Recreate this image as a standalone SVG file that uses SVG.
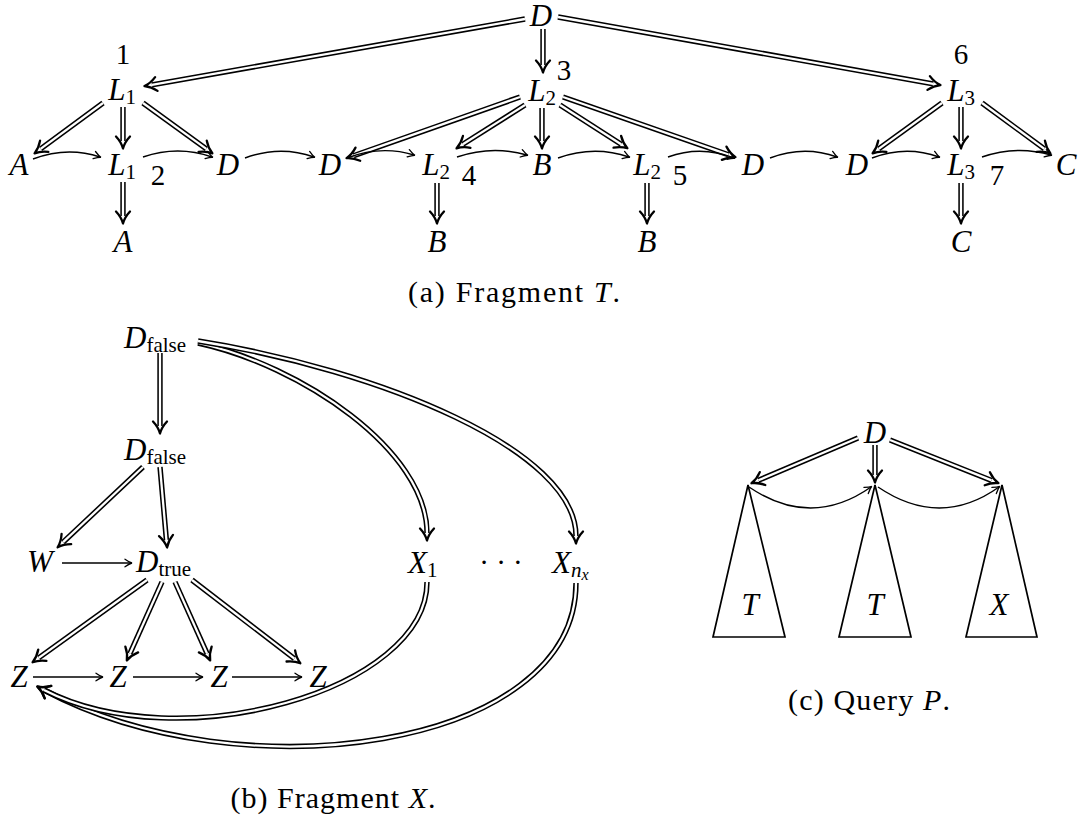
<svg xmlns="http://www.w3.org/2000/svg" width="1084" height="821" viewBox="0 0 1084 821">
<style>
.n{font-family:"Liberation Serif",serif;font-size:31px;font-style:italic;fill:#000}
.s{font-style:normal;font-size:21px}
.si{font-style:italic;font-size:21px}
.ss{font-style:italic;font-size:16px}
.num{font-family:"Liberation Serif",serif;font-size:29px;fill:#000}
.cap{font-family:"Liberation Serif",serif;font-size:30px;fill:#000}
.dbo{fill:none;stroke:#000;stroke-width:5.4;marker-end:url(#dh)}
.dbi{fill:none;stroke:#fff;stroke-width:2.3}
.sg{fill:none;stroke:#000;stroke-width:1.4;marker-end:url(#sh)}
.tri{fill:none;stroke:#000;stroke-width:1.7;stroke-linejoin:miter}
</style>
<defs>
<marker id="dh" markerUnits="userSpaceOnUse" markerWidth="24" markerHeight="24" viewBox="-12 -12 24 24" refX="0" refY="0" orient="auto" overflow="visible">
<path d="M -4.5,-7 Q 1,-1.8 7.5,0 Q 1,1.8 -4.5,7" fill="none" stroke="#000" stroke-width="2.3" stroke-linecap="round" stroke-linejoin="round"/>
</marker>
<marker id="sh" markerUnits="userSpaceOnUse" markerWidth="16" markerHeight="16" viewBox="-8 -8 16 16" refX="0" refY="0" orient="auto" overflow="visible">
<path d="M -6,-3.8 Q -1.5,-0.6 1,0 Q -1.5,0.6 -6,3.8" fill="none" stroke="#000" stroke-width="1.3" stroke-linecap="round"/>
</marker>
</defs>
<rect width="1084" height="821" fill="#fff"/>

<g id="connectors">
<path class="dbo" d="M525,19 L151.9,84.8"/><path class="dbi" d="M525,19 L151.9,84.8"/>
<path class="dbo" d="M543,29 L543,65"/><path class="dbi" d="M543,29 L543,65"/>
<path class="dbo" d="M558,17 L933.1,83.8"/><path class="dbi" d="M558,17 L933.1,83.8"/>
<path class="dbo" d="M103,103 L40.6,148.9"/><path class="dbi" d="M103,103 L40.6,148.9"/>
<path class="dbo" d="M123,107 L123,141"/><path class="dbi" d="M123,107 L123,141"/>
<path class="dbo" d="M143,103 L206.3,148.9"/><path class="dbi" d="M143,103 L206.3,148.9"/>
<path class="dbo" d="M123,182 L123,216"/><path class="dbi" d="M123,182 L123,216"/>
<path class="dbo" d="M520,97 L353.6,155.7"/><path class="dbi" d="M520,97 L353.6,155.7"/>
<path class="dbo" d="M525,105 L462.9,144.3"/><path class="dbi" d="M525,105 L462.9,144.3"/>
<path class="dbo" d="M542,108 L542,141"/><path class="dbi" d="M542,108 L542,141"/>
<path class="dbo" d="M560,105 L621.1,144.2"/><path class="dbi" d="M560,105 L621.1,144.2"/>
<path class="dbo" d="M563,97 L728.4,154.7"/><path class="dbi" d="M563,97 L728.4,154.7"/>
<path class="dbo" d="M437,183 L437,216"/><path class="dbi" d="M437,183 L437,216"/>
<path class="dbo" d="M647,183 L647,216"/><path class="dbi" d="M647,183 L647,216"/>
<path class="dbo" d="M942,103 L878.7,148.9"/><path class="dbi" d="M942,103 L878.7,148.9"/>
<path class="dbo" d="M961,107 L961,141"/><path class="dbi" d="M961,107 L961,141"/>
<path class="dbo" d="M982,103 L1044.4,148.9"/><path class="dbi" d="M982,103 L1044.4,148.9"/>
<path class="dbo" d="M961,183 L961,216"/><path class="dbi" d="M961,183 L961,216"/>
<path class="sg" d="M33,159 Q67,146 100,157"/>
<path class="sg" d="M143,157 Q178,145 212,157"/>
<path class="sg" d="M245,158 Q280,145 314,157"/>
<path class="sg" d="M347,158 Q381,145 414,155"/>
<path class="sg" d="M457,157 Q492,145 527,155"/>
<path class="sg" d="M558,158 Q594,145 629,157"/>
<path class="sg" d="M668,157 Q701,145 734,158"/>
<path class="sg" d="M770,158 Q804,145 837,157"/>
<path class="sg" d="M872,158 Q906,145 939,157"/>
<path class="sg" d="M982,157 Q1017,145 1051,155"/>
<path class="dbo" d="M160,353 L160,426"/><path class="dbi" d="M160,353 L160,426"/>
<path class="dbo" d="M143,467 L63.1,542.2"/><path class="dbi" d="M143,467 L63.1,542.2"/>
<path class="dbo" d="M160,467 L166.4,540"/><path class="dbi" d="M160,467 L166.4,540"/>
<path class="dbo" d="M147,580 L38.7,657.9"/><path class="dbi" d="M147,580 L38.7,657.9"/>
<path class="dbo" d="M162,582 L129.9,653.6"/><path class="dbi" d="M162,582 L129.9,653.6"/>
<path class="dbo" d="M175,582 L207.1,653.6"/><path class="dbi" d="M175,582 L207.1,653.6"/>
<path class="dbo" d="M192,580 L294.4,658.7"/><path class="dbi" d="M192,580 L294.4,658.7"/>
<path class="dbo" d="M198,343 C300,365 427,450 427,533"/><path class="dbi" d="M198,343 C300,365 427,450 427,533"/>
<path class="dbo" d="M198,341 C380,370 576,450 576,536"/><path class="dbi" d="M198,341 C380,370 576,450 576,536"/>
<path class="dbo" d="M576,583 C576,750 240,795 44,690"/><path class="dbi" d="M576,583 C576,750 240,795 44,690"/>
<path class="dbo" d="M427,582 C427,690 180,760 44,690"/><path class="dbi" d="M427,582 C427,690 180,760 44,690"/>
<path class="sg" d="M62,563 L131,563"/>
<path class="sg" d="M33,677 L102,677"/>
<path class="sg" d="M133,677 L202,677"/>
<path class="sg" d="M232,677 L301,677"/>
<path class="dbo" d="M858,438 L758.4,480.3"/><path class="dbi" d="M858,438 L758.4,480.3"/>
<path class="dbo" d="M875,445 L875,475"/><path class="dbi" d="M875,445 L875,475"/>
<path class="dbo" d="M890,440 L991.5,480.4"/><path class="dbi" d="M890,440 L991.5,480.4"/>
<path class="sg" d="M749,487 Q811,529 871,487"/>
<path class="sg" d="M878,487 Q940,529 999,487"/>
</g>

<g id="t-root"><text class="n" x="541" y="26" text-anchor="middle" font-size="29">D</text></g>
<g id="t-l1"><text class="n" x="122" y="100" text-anchor="middle">L<tspan class="s" dy="4">1</tspan></text></g>
<g id="t-l2"><text class="n" x="542" y="101" text-anchor="middle">L<tspan class="s" dy="4">2</tspan></text></g>
<g id="t-l3"><text class="n" x="961" y="101" text-anchor="middle">L<tspan class="s" dy="4">3</tspan></text></g>
<g id="t-a1"><text class="n" x="19" y="175" text-anchor="middle">A</text></g>
<g id="t-l1b"><text class="n" x="122" y="175" text-anchor="middle">L<tspan class="s" dy="4">1</tspan></text></g>
<g id="t-d1"><text class="n" x="228" y="175" text-anchor="middle">D</text></g>
<g id="t-d2"><text class="n" x="330" y="175" text-anchor="middle">D</text></g>
<g id="t-l2a"><text class="n" x="436" y="175" text-anchor="middle">L<tspan class="s" dy="4">2</tspan></text></g>
<g id="t-b1"><text class="n" x="542" y="175" text-anchor="middle">B</text></g>
<g id="t-l2b"><text class="n" x="647" y="175" text-anchor="middle">L<tspan class="s" dy="4">2</tspan></text></g>
<g id="t-d3"><text class="n" x="753" y="175" text-anchor="middle">D</text></g>
<g id="t-d4"><text class="n" x="857" y="175" text-anchor="middle">D</text></g>
<g id="t-l3b"><text class="n" x="961" y="175" text-anchor="middle">L<tspan class="s" dy="4">3</tspan></text></g>
<g id="t-c1"><text class="n" x="1066" y="175" text-anchor="middle">C</text></g>
<g id="t-a2"><text class="n" x="123" y="252" text-anchor="middle">A</text></g>
<g id="t-b2"><text class="n" x="437" y="252" text-anchor="middle">B</text></g>
<g id="t-b3"><text class="n" x="647" y="252" text-anchor="middle">B</text></g>
<g id="t-c2"><text class="n" x="961" y="252" text-anchor="middle">C</text></g>
<g id="t-nums">
<text class="num" x="123" y="64" text-anchor="middle">1</text>
<text class="num" x="158" y="185" text-anchor="middle">2</text>
<text class="num" x="564" y="80" text-anchor="middle">3</text>
<text class="num" x="469" y="185" text-anchor="middle">4</text>
<text class="num" x="680" y="185" text-anchor="middle">5</text>
<text class="num" x="961" y="64" text-anchor="middle">6</text>
<text class="num" x="997" y="185" text-anchor="middle">7</text>
</g>
<g id="cap-a"><text class="cap" x="514" y="302" text-anchor="middle" textLength="212" lengthAdjust="spacing">(a) Fragment <tspan font-style="italic">T</tspan>.</text></g>

<g id="x-dfalse1"><text class="n" x="124" y="348">D<tspan class="s" dy="4">false</tspan></text></g>
<g id="x-dfalse2"><text class="n" x="124" y="460">D<tspan class="s" dy="4">false</tspan></text></g>
<g id="x-w"><text class="n" x="40" y="572" text-anchor="middle">W</text></g>
<g id="x-dtrue"><text class="n" x="136" y="572">D<tspan class="s" dy="4">true</tspan></text></g>
<g id="x-x1"><text class="n" x="408" y="573">X<tspan class="s" dy="4">1</tspan></text></g>
<g id="x-dots"><text class="num" x="501" y="572" text-anchor="middle">· · ·</text></g>
<g id="x-xn"><text class="n" x="552" y="573">X<tspan class="si" dy="4">n</tspan><tspan class="ss" dy="3">x</tspan></text></g>
<g id="x-z1"><text class="n" x="19" y="687" text-anchor="middle">Z</text></g>
<g id="x-z2"><text class="n" x="118" y="687" text-anchor="middle">Z</text></g>
<g id="x-z3"><text class="n" x="219" y="687" text-anchor="middle">Z</text></g>
<g id="x-z4"><text class="n" x="318" y="687" text-anchor="middle">Z</text></g>
<g id="cap-b"><text class="cap" x="333" y="808" text-anchor="middle" textLength="205" lengthAdjust="spacing">(b) Fragment <tspan font-style="italic">X</tspan>.</text></g>

<g id="p-root"><text class="n" x="875" y="443" text-anchor="middle">D</text></g>
<g id="p-t1"><polygon class="tri" points="748,485 713,637 785,637"/><text class="n" x="750" y="615" text-anchor="middle">T</text></g>
<g id="p-t2"><polygon class="tri" points="875,485 839,637 911,637"/><text class="n" x="875" y="615" text-anchor="middle">T</text></g>
<g id="p-x"><polygon class="tri" points="1002,485 966,637 1037,637"/><text class="n" x="999" y="615" text-anchor="middle">X</text></g>
<g id="cap-c"><text class="cap" x="869" y="710" text-anchor="middle" textLength="162" lengthAdjust="spacing">(c) Query <tspan font-style="italic">P</tspan>.</text></g>
</svg>
